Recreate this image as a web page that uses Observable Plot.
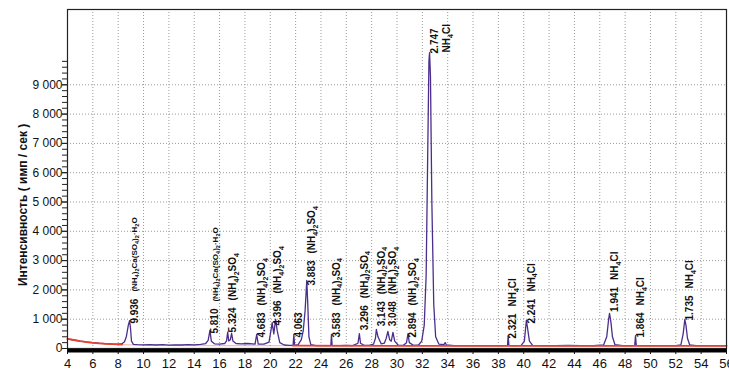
<!DOCTYPE html>
<html><head><meta charset="utf-8">
<script src="https://cdn.jsdelivr.net/npm/d3@7"></script>
<script src="https://cdn.jsdelivr.net/npm/@observablehq/plot@0.6"></script>
<style>body{margin:0;background:#fff}svg{display:block}</style>
</head><body><div id="chart"></div>
<script>
// measured pattern: [2θ, intensity]
const spectrum = [[4,330],[4.5,290],[5,255],[5.5,225],[6,200],[6.5,180],[7,165],[7.5,155],[8,150],[8.3,165],[8.5,230],[8.65,420],[8.8,800],[8.9,950],[8.97,700],[9.05,250],[9.2,140],[9.5,130],[10,125],[10.5,135],[11,120],[11.5,130],[12,115],[12.5,125],[13,120],[13.5,130],[14,125],[14.5,140],[14.9,170],[15.1,280],[15.24,620],[15.35,250],[15.6,160],[16,150],[16.4,170],[16.55,260],[16.64,560],[16.72,260],[16.85,300],[16.95,520],[17.05,260],[17.3,170],[17.7,160],[18.2,170],[18.8,150],[18.93,480],[19.05,150],[19.5,150],[19.9,220],[20.05,600],[20.15,880],[20.28,500],[20.42,1000],[20.55,600],[20.75,200],[21.1,120],[21.5,110],[21.8,105],[21.86,480],[21.92,110],[22.2,130],[22.45,300],[22.6,600],[22.75,1300],[22.88,2320],[22.96,1500],[23.05,400],[23.2,130],[23.6,100],[24.2,100],[24.78,100],[24.83,480],[24.88,100],[25.5,100],[26,110],[26.5,100],[26.92,180],[27.03,510],[27.12,180],[27.4,110],[27.8,110],[28.15,150],[28.3,350],[28.37,650],[28.5,400],[28.75,160],[29.0,180],[29.15,350],[29.28,580],[29.42,300],[29.55,250],[29.68,550],[29.82,250],[30.1,110],[30.5,110],[30.75,200],[30.87,510],[30.97,200],[31.3,110],[31.7,120],[31.95,250],[32.15,800],[32.3,2500],[32.42,6500],[32.52,9800],[32.57,10100],[32.64,9300],[32.75,5000],[32.9,1500],[33.05,400],[33.3,150],[33.7,130],[33.8,200],[33.9,120],[34.5,100],[35.5,100],[36.5,100],[37.5,100],[38.3,100],[38.72,110],[38.77,440],[38.83,110],[39.2,100],[39.8,110],[40.05,250],[40.15,700],[40.21,960],[40.3,700],[40.45,250],[40.7,110],[41.5,100],[42.5,100],[43.5,110],[44.5,100],[45.5,100],[46.3,120],[46.55,400],[46.7,1000],[46.77,1200],[46.88,900],[47.0,400],[47.2,130],[47.8,100],[48.4,100],[48.76,110],[48.82,440],[48.88,110],[49.3,100],[50,100],[51,100],[52,100],[52.4,120],[52.58,500],[52.71,990],[52.8,800],[52.92,350],[53.1,120],[53.6,100],[54.5,100],[55.3,100],[56,100]];

// background curve: [2θ, intensity], in three stretches
const backgroundLeft = [[4,330],[4.5,290],[5,250],[5.5,220],[6,195],[6.5,175],[7,160],[7.5,148],[8,140],[8.3,135]];
const backgroundMid = [[8.3,135],[9,125],[10,115],[12,105],[16,100],[21.8,95]];
const backgroundRight = [[21.8,95],[30,92],[40,90],[56,90]];

// d-spacing labels (2θ position, text, intensity level where the label starts)
const dTheta = [8.89,15.24,16.64,18.93,20.2,21.86,22.88,24.83,27.03,28.37,29.28,30.87,32.57,38.77,40.21,46.77,48.82,52.71];
const dText = ["9.936","5.810","5.324","4.683","4.396","4.063","3.883","3.583","3.296","3.143","3.048","2.894","2.747","2.321","2.241","1.941","1.864","1.735"];
const dY = [850,510,550,375,785,375,2150,375,620,760,760,375,10070,340,850,1250,375,955];

// phase labels, each attached to a d-spacing label
const phaseOf = ["9.936","5.810","5.324","4.683","4.396","3.883","3.583","3.296","3.143","3.048","2.894","2.747","2.321","2.241","1.941","1.864","1.735"];
const phaseText = ["(NH4)2Ca(SO4)2·H2O","(NH4)2Ca(SO4)2·H2O","(NH4)2SO4","(NH4)2SO4","(NH4)2SO4","(NH4)2SO4","(NH4)2SO4","(NH4)2SO4","(NH4)2SO4","(NH4)2SO4","(NH4)2SO4","NH4Cl","NH4Cl","NH4Cl","NH4Cl","NH4Cl","NH4Cl"];

const xTicks = [4,6,8,10,12,14,16,18,20,22,24,26,28,30,32,34,36,38,40,42,44,46,48,50,52,54,56];
const yTicks = [0,1000,2000,3000,4000,5000,6000,7000,8000,9000];
const yTitle = "Интенсивность ( имп / сек )";

const yMinor = d3.range(0, 9801, 200);
const xGrid = xTicks.slice(1, -1);
const yGrid = yTicks.slice(1);
const NUM_SIZE = 10;
const dLabels = dText.map((t, i) => ({t, x: dTheta[i], y: dY[i]}));
const phaseLabels = phaseText.map((t, i) => {
  const j = dText.indexOf(phaseOf[i]);
  const beside = dY[j] > 9000;   // no room above the label: put it alongside
  return {t, x: dTheta[j], y: dY[j], beside};
});
const fmt = d => d === 0 ? "0" : d3.format(",")(d).replace(/,/g, " ");
const FONT = "'Liberation Sans', Arial, sans-serif";
const phaseSize = t => t.includes("Ca") ? 8 : 10;
const RED = "#e8402e";
const px = {x: d => d[0], y: d => d[1]};

const chart = Plot.plot({
  width: 729, height: 371,
  marginLeft: 67, marginRight: 3, marginTop: 9, marginBottom: 23,
  style: {fontFamily: FONT, background: "#fff", color: "#111"},
  x: {domain: [4, 56]},
  y: {domain: [0, 11570]},
  marks: [
    Plot.gridX(xGrid, {stroke: "#9a9a9a", strokeOpacity: 1, strokeDasharray: "1,2"}),
    Plot.gridY(yGrid, {stroke: "#9a9a9a", strokeOpacity: 1, strokeDasharray: "1,2"}),
    Plot.line(backgroundMid, {...px, stroke: RED, strokeOpacity: 0.35, strokeWidth: 1.2}),
    Plot.line(spectrum, {...px, stroke: "#4b2e8c", strokeWidth: 1.3}),
    Plot.line(backgroundLeft, {...px, stroke: RED, strokeWidth: 1.8}),
    Plot.line(backgroundRight, {...px, stroke: RED, strokeWidth: 1.8}),
    Plot.ruleY([0], {stroke: "#000", strokeWidth: 4, dy: 2}),
    Plot.frame({stroke: "#222", strokeWidth: 1.2}),
    Plot.axisX({ticks: xTicks, tickSize: 6, tickPadding: 4, fontSize: 13, label: null, tickFormat: d => String(d)}),
    Plot.axisY({ticks: yMinor, tickSize: 5, tickFormat: () => "", label: null, stroke: "#222"}),
    Plot.axisY({ticks: yTicks, tickSize: 5, tickPadding: 0, fontSize: 12, tickFormat: fmt, label: null, stroke: "#222"}),
    Plot.text(dLabels, {x: "x", y: "y", text: "t", rotate: -90, textAnchor: "start", dx: 5, fontSize: NUM_SIZE, fontWeight: "bold", fill: "#111"}),
    Plot.text(phaseLabels.filter(d => !d.beside), {x: "x", y: "y", text: "t", rotate: -90, textAnchor: "start", dx: 5, dy: -32,
      fontSize: d => phaseSize(d.t), fontWeight: "bold", fill: "#111"}),
    Plot.text(phaseLabels.filter(d => d.beside), {x: "x", y: "y", text: "t", rotate: -90, textAnchor: "start", dx: 17, dy: -1,
      fontSize: d => phaseSize(d.t), fontWeight: "bold", fill: "#111"}),
    Plot.text([yTitle], {text: d => d, y: () => 4900, frameAnchor: "left", dx: -44, rotate: -90, textAnchor: "middle", fontSize: 12, fontWeight: "bold", fill: "#111"})
  ]
});

// chemical formulas: digits as subscripts
const NS = "http://www.w3.org/2000/svg";
chart.querySelectorAll("text").forEach(t => {
  const s = t.textContent;
  if (!phaseText.includes(s)) return;
  const fs = phaseSize(s);
  const shift = (fs * 0.28).toFixed(2);
  while (t.firstChild) t.removeChild(t.firstChild);
  let prevSub = false;
  (s.match(/\d+|\D+/g) || []).forEach(p => {
    const ts = document.createElementNS(NS, "tspan");
    ts.textContent = p;
    const isSub = /\d/.test(p);
    if (isSub) { ts.setAttribute("font-size", (fs * 0.7).toFixed(1)); ts.setAttribute("dy", shift); }
    else if (prevSub) ts.setAttribute("dy", -shift);
    prevSub = isSub;
    t.appendChild(ts);
  });
});
document.getElementById("chart").appendChild(chart);
</script>
</body></html>
